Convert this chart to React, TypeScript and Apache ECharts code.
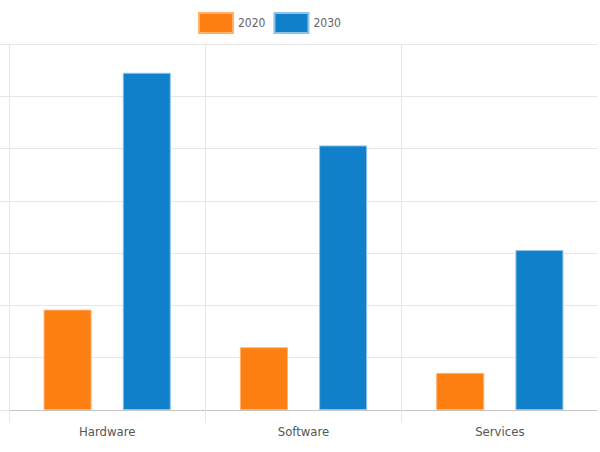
import React, { useEffect, useRef } from "react";
import * as echarts from "echarts";

const categories = ["Hardware", "Software", "Services"];
const seriesNames = ["2020", "2030"];
const values2020 = [19.2, 12.0, 7.1];
const values2030 = [64.5, 50.6, 30.6];
const colors = ["#fd7f11", "#0f80c9"];
const borderColors = ["#ffb06a", "#8cc4ea"];

const FONT = "'Liberation Sans Narrow', 'Arial Narrow', 'DejaVu Sans Condensed', sans-serif";

export default function App() {
  const ref = useRef<HTMLDivElement>(null);
  useEffect(() => {
    if (!ref.current) return;
    const chart = echarts.init(ref.current, undefined, { renderer: "svg" });
    const data = [values2020, values2030];
    chart.setOption({
      animation: false,
      backgroundColor: "#ffffff",
      legend: {
        top: 7,
        left: 193,
        itemWidth: 34,
        itemHeight: 20,
        itemGap: 8,
        icon: "rect",
        data: seriesNames,
        textStyle: { fontFamily: FONT, fontSize: 12, color: "#666666" },
      },
      grid: { left: 9, right: 2, top: 44, bottom: 42, containLabel: false },
      xAxis: {
        type: "category",
        data: categories,
        boundaryGap: true,
        axisLine: { show: true, lineStyle: { color: "#c4c4c4", width: 1 } },
        axisTick: { show: true, length: 13, lineStyle: { color: "#e6e6e6" } },
        splitLine: { show: true, lineStyle: { color: "#e6e6e6", width: 1 } },
        axisLabel: { margin: 15, fontFamily: FONT, fontSize: 13, color: "#555555" },
      },
      yAxis: {
        type: "value",
        min: 0,
        max: 70,
        interval: 10,
        axisLine: { show: true, lineStyle: { color: "#e6e6e6" } },
        axisTick: { show: true, length: 9, lineStyle: { color: "#e6e6e6" } },
        axisLabel: { show: false },
        splitLine: { show: true, lineStyle: { color: "#e6e6e6", width: 1 } },
      },
      graphic: [
        {
          type: "rect",
          z: 100,
          shape: { x: 597.5, y: 40, width: 3, height: 390 },
          style: { fill: "#ffffff" },
          silent: true,
        },
      ],
      series: seriesNames.map((name, i) => ({
        name,
        type: "bar",
        data: data[i],
        barWidth: 48,
        barGap: "65%",
        itemStyle: { color: colors[i], borderColor: borderColors[i], borderWidth: 1 },
      })),
    });
    return () => chart.dispose();
  }, []);
  return (
    <div
      ref={ref}
      style={{ position: "fixed", left: 0, top: 0, width: 600, height: 452, background: "#fff" }}
    />
  );
}
